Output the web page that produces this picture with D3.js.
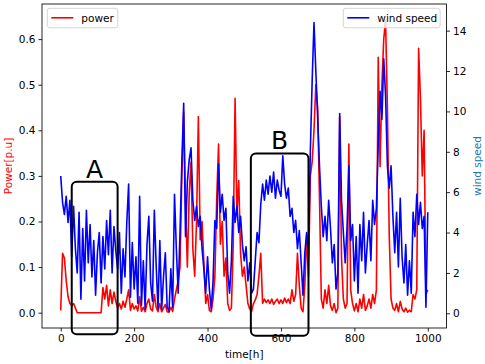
<!DOCTYPE html>
<html><head><meta charset="utf-8">
<script src="https://cdn.jsdelivr.net/npm/d3@7"></script>
<style>body{margin:0;background:#fff}svg text{font-family:"DejaVu Sans",sans-serif}</style>
</head><body><svg id="c" width="485" height="364"></svg>
<script>
const hours = d3.range(0, 1001, 5);
const power = [
0.005,0.13,0.12,0.07,0.035,0.02,0.015,0.02,0.01,0.0,
0,0,0,0,0,0,0,0,0,0,
0,0,0,0.055,0.03,0.06,0.015,0.05,0.02,0.045,
0.025,0.01,0.02,0.008,0.025,0.012,0.03,0.05,0.005,0.02,
0.008,0.015,0.004,0.035,0.003,0.012,0.002,0.02,0.03,0.008,
0.004,0.04,0.012,0.002,0.02,0.002,0.01,0.018,0.002,0.001,
0.012,0.003,0.03,0.05,0.07,0.1,0.3,0.44,0.24,0.1,
0.26,0.33,0.14,0.08,0.2,0.43,0.16,0.2,0.11,0.02,
0.04,0.005,0.002,0.03,0.08,0.25,0.37,0.15,0.2,0.08,
0.12,0.02,0.005,0.01,0.15,0.47,0.22,0.29,0.13,0.08,
0.1,0.06,0.02,0.008,0.003,0.02,0.028,0.04,0.08,0.13,
0.02,0.03,0.022,0.028,0.02,0.03,0.018,0.025,0.03,0.02,
0.028,0.02,0.032,0.022,0.03,0.02,0.05,0.025,0.04,0.13,
0.06,0.01,0.002,0.06,0.17,0.08,0.3,0.33,0.4,0.5,
0.45,0.25,0.03,0.01,0.05,0.02,0.06,0.015,0.005,0.02,
0.0,0.01,0.43,0.12,0.03,0.01,0.02,0.37,0.05,0.02,
0.004,0.02,0.002,0.03,0.01,0.04,0.005,0.015,0.03,0.01,
0.04,0.02,0.05,0.56,0.32,0.5,0.6,0.64,0.45,0.17,
0.03,0.01,0.005,0.02,0.002,0.025,0.008,0.002,0.01,0.001,
0.005,0.002,0.04,0.03,0.05,0.58,0.47,0.3,0.4,0.04,
0.05];
const wind = [
6.8,5.5,4.9,5.8,4.5,5.6,2.8,5.3,3.2,2.0,
5.0,0.7,4.2,1.6,5.1,2.5,4.4,1.8,3.6,0.9,
3.0,4.0,1.5,3.8,2.2,4.6,2.9,5.1,2.0,4.3,
3.1,2.2,4.0,1.0,3.2,1.8,4.5,6.4,0.8,3.5,
1.2,2.8,0.5,5.8,0.4,2.6,0.2,3.4,4.8,1.5,
0.6,5.1,2.4,0.2,3.6,0.2,1.8,3.0,0.3,0.1,
2.2,0.3,5.9,3.2,1.0,4.0,7.5,10.4,3.8,6.5,
7.6,8.2,5.6,4.6,5.3,4.3,4.8,3.2,2.2,1.0,
2.8,1.2,0.2,1.6,4.6,4.2,7.4,5.0,5.9,4.6,
5.2,2.0,1.0,2.6,5.8,4.5,5.3,4.0,4.8,3.4,
2.6,3.3,1.6,2.5,1.0,1.2,2.6,4.0,3.5,5.4,
6.4,5.6,6.6,5.9,6.8,6.0,7.0,5.7,6.6,6.1,
5.8,7.8,6.4,5.7,6.2,4.8,5.2,4.0,4.6,3.2,
4.1,2.5,0.9,3.0,4.0,2.8,8.0,11.5,14.4,12.0,
9.7,7.3,5.3,3.8,4.8,3.6,5.6,4.2,2.5,3.4,
1.2,2.0,9.9,5.6,4.0,2.5,4.2,7.3,3.6,4.4,
1.6,3.8,1.0,4.4,2.6,5.0,2.0,3.4,4.6,2.6,
5.6,4.4,5.2,8.4,11.0,9.6,12.6,10.8,7.3,6.2,
7.3,4.8,3.0,5.0,2.3,5.7,2.8,1.5,3.4,0.9,
2.6,1.0,5.0,3.8,5.9,4.4,5.5,4.2,4.8,0.3,
5.0];
const xTicks = [0, 200, 400, 600, 800, 1000];
const powerTicks = [0.0, 0.1, 0.2, 0.3, 0.4, 0.5, 0.6];
const windTicks = [0, 2, 4, 6, 8, 10, 12, 14];
const boxLabels = ["A", "B"];
const boxStart = [30, 518];
const boxEnd = [155, 675];
const boxTop = [6.52, 7.92];
const boxBottom = [-1.04, -1.11];

const svg = d3.select("#c");
const L = 42, R = 446.5, T = 4, B = 328;
const x = d3.scaleLinear().domain([-51, 1051]).range([L, R]);
const yP = d3.scaleLinear().domain([-0.0336, 0.677]).range([B, T]);
const yW = d3.scaleLinear().domain([-0.728, 15.32]).range([B, T]);
const fs = 10.5;

// lines
svg.append("defs").append("clipPath").attr("id","clip").append("rect")
  .attr("x",L).attr("y",T).attr("width",R-L).attr("height",B-T);
const gLines = svg.append("g").attr("clip-path","url(#clip)");
gLines.append("path").datum(power)
  .attr("d", d3.line().x((d,i)=>x(hours[i])).y(d=>yP(d)))
  .attr("fill","none").attr("stroke","#ff0000").attr("stroke-width",1.6).attr("stroke-linejoin","round");
gLines.append("path").datum(wind)
  .attr("d", d3.line().x((d,i)=>x(hours[i])).y(d=>yW(d)))
  .attr("fill","none").attr("stroke","#0000ff").attr("stroke-width",1.6).attr("stroke-linejoin","round");

// axes
const ax = svg.append("g").attr("transform",`translate(0,${B})`)
  .call(d3.axisBottom(x).tickValues(xTicks).tickSize(3.5).tickPadding(3).tickFormat(d3.format("d")));
const ayL = svg.append("g").attr("transform",`translate(${L},0)`)
  .call(d3.axisLeft(yP).tickValues(powerTicks).tickSize(3.5).tickPadding(3).tickFormat(d3.format(".1f")));
const ayR = svg.append("g").attr("transform",`translate(${R},0)`)
  .call(d3.axisRight(yW).tickValues(windTicks).tickSize(3.5).tickPadding(3).tickFormat(d3.format("d")));
[ax,ayL,ayR].forEach(g=>{
  g.select(".domain").remove();
  g.selectAll("line").attr("stroke","#000").attr("stroke-width",0.85);
  g.selectAll("text").attr("font-size",fs).attr("fill","#000").attr("font-family","DejaVu Sans");
});
svg.append("rect").attr("x",L).attr("y",T).attr("width",R-L).attr("height",B-T)
  .attr("fill","none").attr("stroke","#000").attr("stroke-width",0.85);

// axis labels
svg.append("text").attr("x",(L+R)/2).attr("y",358).attr("text-anchor","middle")
  .attr("font-size",fs).text("time[h]");
svg.append("text").attr("transform",`translate(12,${(T+B)/2}) rotate(-90)`).attr("text-anchor","middle")
  .attr("font-size",fs).attr("fill","#ff0000").text("Power[p.u]");
svg.append("text").attr("transform",`translate(481,${(T+B)/2}) rotate(-90)`).attr("text-anchor","middle")
  .attr("font-size",fs).attr("fill","#1f77b4").text("wind speed");

// annotation boxes
boxLabels.forEach((lab,i)=>{
  const x0 = x(boxStart[i]), x1 = x(boxEnd[i]);
  const y0 = yW(boxTop[i]), y1 = yW(boxBottom[i]);
  svg.append("rect").attr("x",x0).attr("y",y0).attr("width",x1-x0).attr("height",y1-y0)
    .attr("rx",5).attr("fill","none").attr("stroke","#000").attr("stroke-width",2);
  svg.append("text").attr("x",(x0+x1)/2).attr("y",y0-4).attr("text-anchor","middle")
    .attr("font-size",25).text(lab);
});

// legends
function legend(lx, ly, w, color, label){
  const g = svg.append("g");
  g.append("rect").attr("x",lx).attr("y",ly).attr("width",w).attr("height",19.5).attr("rx",2.5)
    .attr("fill","#fff").attr("fill-opacity",0.8).attr("stroke","#cccccc").attr("stroke-width",0.85);
  g.append("line").attr("x1",lx+4).attr("x2",lx+26).attr("y1",ly+9.5).attr("y2",ly+9.5)
    .attr("stroke",color).attr("stroke-width",1.6);
  g.append("text").attr("x",lx+34).attr("y",ly+13.5).attr("font-size",fs).text(label);
}
legend(47.3, 8.3, 70.5, "#ff0000", "power");
legend(343.3, 8.3, 96.8, "#0000ff", "wind speed");
</script></body></html>
